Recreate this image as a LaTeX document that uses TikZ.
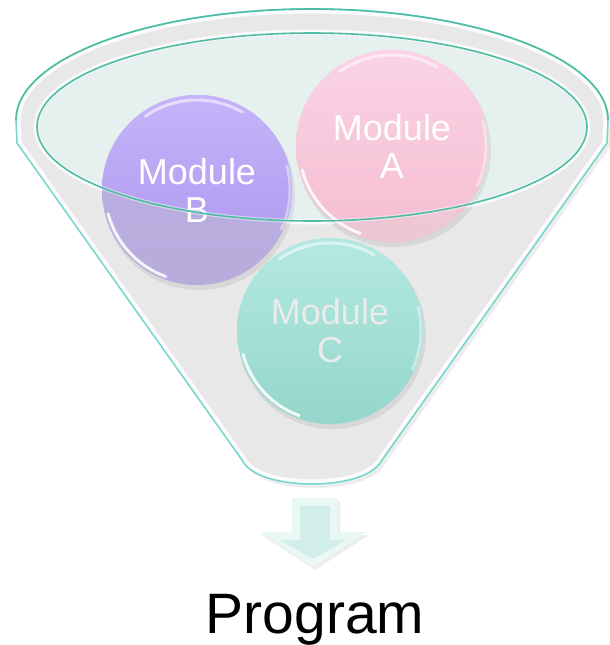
\documentclass[tikz,border=0pt]{standalone}
\usepackage{fontspec}
\setmainfont{Liberation Sans}
\begin{document}
\begin{tikzpicture}[x=1pt,y=1pt]
% palette
\definecolor{bodygray}{HTML}{E8E8E8}
\definecolor{mouthfill}{HTML}{E6F0EF}
\definecolor{rimteal}{HTML}{4FBCA4}
\definecolor{sideteal}{HTML}{6FD8CA}
\definecolor{pinkTop}{HTML}{FAD3E4}
\definecolor{pinkBot}{HTML}{F5BDD2}
\definecolor{pinkWTop}{HTML}{F2D2DE}
\definecolor{pinkWBot}{HTML}{EEC6D4}
\definecolor{lilacTop}{HTML}{C6B4FA}
\definecolor{lilacBot}{HTML}{AA94EC}
\definecolor{lilacWTop}{HTML}{BCAEE4}
\definecolor{lilacWBot}{HTML}{B8ACDC}
\definecolor{mintTop}{HTML}{B4E9E2}
\definecolor{mintBot}{HTML}{94D6CB}
\definecolor{mintText}{HTML}{E9ECEB}
\definecolor{arrowEdge}{HTML}{EAF8F5}
\definecolor{arrowFace}{HTML}{D2EEE9}
\tikzset{
  modbox/.style={circle, inner sep=0pt, minimum size=#1, text=white, align=center,
    font=\fontsize{36}{38}\selectfont},
  gloss/.style={white, line width=3pt, line cap=round, opacity=0.55},
  softshadow/.style={black, opacity=0.07},
}
\useasboundingbox (0,0) rectangle (610,-645);

% funnel outline: rim on top, tapering sides, rounded spout
\def\funnelbody{(16,-120) arc[start angle=180,end angle=0,x radius=296,y radius=111]
  .. controls (608,-131) .. (607,-143) -- (382,-460)
  .. controls (374,-476) and (344,-484) .. (312,-484)
  .. controls (280,-484) and (250,-476) .. (242,-460)
  -- (17,-143) .. controls (16,-131) .. cycle}
\def\mouth{(312,-127) ellipse[x radius=275,y radius=94]}

% drop shadow and body
\fill[softshadow, shift={(3,-4)}] \funnelbody;
\fill[bodygray] \funnelbody;
\begin{scope}
  \clip \funnelbody;
  \draw[white, line width=9pt, opacity=0.9] \funnelbody;
\end{scope}

% mouth of the funnel
\draw[white, line width=7pt, opacity=0.8] \mouth;
\fill[mouthfill] \mouth;

% circle shadows
\fill[softshadow] (394,-150) circle (97);
\fill[softshadow] (199,-194) circle (96);
\fill[softshadow] (332,-335) circle (94);

% lower, washed-out parts of A and B (seen through the funnel wall)
\node[modbox=192, top color=pinkWTop, bottom color=pinkWBot] (modAlow) at (392,-146) {Module\\A};
\node[modbox=190, top color=lilacWTop, bottom color=lilacWBot] (modBlow) at (197,-190) {Module\\B};

% parts of A and B inside the mouth
\begin{scope}
  \clip \mouth;
  \node[modbox=192, top color=pinkTop, bottom color=pinkBot] (modA) at (392,-146) {Module\\A};
  \node[modbox=190, top color=lilacTop, bottom color=lilacBot] (modB) at (197,-190) {Module\\B};
\end{scope}

% module C
\node[modbox=186, top color=mintTop, bottom color=mintBot, text=mintText] (modC) at (330,-331) {Module\\C};

% glossy highlights along the rims of the discs
\draw[gloss] ([shift={(125:91)}]modA.center) arc[start angle=125,end angle=60,radius=91];
\draw[gloss, opacity=0.85] ([shift={(195:93)}]modA.center) arc[start angle=195,end angle=250,radius=93];
\draw[gloss, opacity=0.4] ([shift={(15:94)}]modA.center) arc[start angle=15,end angle=-25,radius=94];
\draw[gloss] ([shift={(125:90)}]modB.center) arc[start angle=125,end angle=60,radius=90];
\draw[gloss, opacity=0.85] ([shift={(195:92)}]modB.center) arc[start angle=195,end angle=250,radius=92];
\draw[gloss, opacity=0.4] ([shift={(15:93)}]modB.center) arc[start angle=15,end angle=-25,radius=93];
\draw[gloss] ([shift={(125:88)}]modC.center) arc[start angle=125,end angle=60,radius=88];
\draw[gloss, opacity=0.85] ([shift={(195:90)}]modC.center) arc[start angle=195,end angle=250,radius=90];
\draw[gloss, opacity=0.4] ([shift={(15:91)}]modC.center) arc[start angle=15,end angle=-25,radius=91];

% outlines
\draw[white, line width=4pt, opacity=0.45] \mouth;
\draw[rimteal, line width=1.6pt] \mouth;
\draw[sideteal, line width=1.5pt] \funnelbody;
\draw[rimteal, line width=1.6pt] (16,-120) arc[start angle=180,end angle=0,x radius=296,y radius=111];

% block arrow under the spout
\fill[softshadow] (294,-501) -- (340,-501) -- (340,-535) -- (369,-535) -- (315,-570) -- (262,-535) -- (294,-535) -- cycle;
\fill[arrowEdge] (292,-498) -- (338,-498) -- (338,-532) -- (367,-532) -- (313,-567) -- (260,-532) -- (292,-532) -- cycle;
\fill[arrowFace] (300,-506) -- (330,-506) -- (330,-540) -- (346,-540) -- (313,-559) -- (280,-540) -- (300,-540) -- cycle;

% result label
\node[anchor=base, font=\fontsize{57}{60}\selectfont] (prog) at (315,-633) {Program};
\end{tikzpicture}
\end{document}
